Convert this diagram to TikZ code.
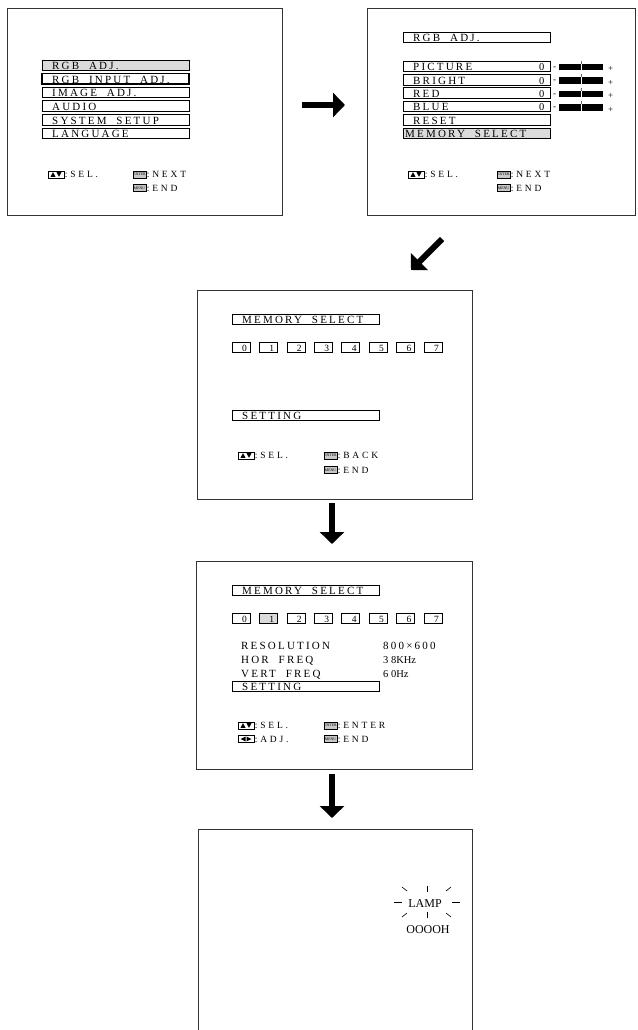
\documentclass[tikz,border=0pt]{standalone}
\usepackage{fontspec}
\setmainfont{Liberation Serif}
\newfontfamily\lsfont[LetterSpace=20]{Liberation Serif}
\newfontfamily\lsfontb[LetterSpace=30]{Liberation Serif}
\usetikzlibrary{arrows.meta}
\tikzset{
 scr/.style={draw=black!80, line width=0.9pt, inner sep=0, outer sep=0, anchor=north west},
 mbox/.style={draw=black, line width=0.7pt, inner sep=0, outer sep=0, anchor=north west, minimum height=10.5pt},
 selb/.style={line width=1.4pt},
 hlb/.style={fill=black!14},
 mtxt/.style={inner sep=0, anchor=base west, font=\fontsize{11}{11}\lsfont},
 ftxt/.style={inner sep=0, anchor=base west, font=\fontsize{9.5}{9.5}\lsfontb},
 ico/.style={draw=black, line width=0.7pt, inner sep=0, outer sep=0, anchor=west, minimum width=16pt, minimum height=7pt},
 keyico/.style={draw=black, fill=black!22, line width=0.5pt, inner sep=0, outer sep=0, anchor=west, minimum width=13pt, minimum height=7pt, font=\fontsize{3.8}{3.8}\selectfont},
 bigarr/.style={line width=6pt, -{Triangle[length=12pt,width=24pt]}},
 rayl/.style={line width=0.6pt},
 dig/.style={inner sep=0, anchor=base east, font=\fontsize{9.5}{9.5}\selectfont},
 small/.style={inner sep=0, anchor=base west, font=\fontsize{9}{9}\selectfont},
}
\newcommand\mitem[6]{%
 \node[mbox, minimum width=#4pt, #6] (#1) at (#2,#3) {};
 \node[mtxt] (#1t) at ([xshift=10pt,yshift=0.8pt]#1.south west) {#5};}
\newcommand\iconud[3]{%
 \node[ico] (#1) at (#2,#3) {};
 \fill ([xshift=2.5pt,yshift=-2.3pt]#1.west) -- ++(5pt,0) -- ++(-2.5pt,4.6pt) -- cycle;
 \fill ([xshift=8.5pt,yshift=2.3pt]#1.west) -- ++(5pt,0) -- ++(-2.5pt,-4.6pt) -- cycle;}
\newcommand\iconlr[3]{%
 \node[ico] (#1) at (#2,#3) {};
 \fill ([xshift=2.5pt]#1.west) -- ++(5pt,2.4pt) -- ++(0,-4.8pt) -- cycle;
 \fill ([xshift=-2.5pt]#1.east) -- ++(-5pt,2.4pt) -- ++(0,-4.8pt) -- cycle;}
\newcommand\digbox[5]{%
 \node[mbox, minimum width=18pt, minimum height=10.5pt, #5] (#1) at (#2,#3) {};
 \node[dig] (#1t) at ([xshift=-3pt,yshift=0.8pt]#1.south east) {#4};}
\newcommand\valzero[1]{%
 \node[inner sep=0, anchor=base east, font=\fontsize{10.5}{10.5}\selectfont] (#1z) at ([xshift=-5.5pt,yshift=0.8pt]#1.south east) {0};}
\newcommand\slider[1]{%
 \node[small] (#1m) at ([xshift=3pt,yshift=2pt]#1.south east) {-};
 \fill ([xshift=9pt,yshift=-3pt]#1.north east) rectangle ([xshift=53pt,yshift=1pt]#1.south east);
 \draw[white, line width=0.7pt] ([xshift=31pt,yshift=-3pt]#1.north east) -- ([xshift=31pt,yshift=1pt]#1.south east);
 \draw[black!60, line width=0.6pt] ([xshift=31pt]#1.north east) -- ([xshift=31pt,yshift=-3pt]#1.north east);
 \node[small] (#1p) at ([xshift=58pt,yshift=-0.5pt]#1.south east) {+};}
\newcommand\ftext[2]{%
 \node[ftxt] (#1t) at ([xshift=0.6pt,yshift=-3.4pt]#1.east) {#2};}
\begin{document}
\begin{tikzpicture}[x=1pt,y=-1pt]
\useasboundingbox (0,0) rectangle (637,1030);
% ---------- screen 1
\node[scr, minimum width=275pt, minimum height=207pt] (s1) at (7,8) {};
\mitem{ma}{42}{60}{147}{RGB\ \ ADJ.}{hlb}
\mitem{mb}{42}{73.6}{147}{RGB\ \ INPUT\ \ ADJ.}{selb}
\mitem{mc}{42}{87.2}{147}{IMAGE\ \ ADJ.}{}
\mitem{md}{42}{100.8}{147}{AUDIO}{}
\mitem{me}{42}{114.4}{147}{SYSTEM\ \ SETUP}{}
\mitem{mf}{42}{128}{147}{LANGUAGE}{}
\iconud{aud}{48}{174.5}\ftext{aud}{:SEL.}
\node[keyico] (aen) at (133,174.5) {ENTER};\ftext{aen}{:NEXT}
\node[keyico] (amn) at (133,188) {MENU};\ftext{amn}{:END}
% ---------- screen 2
\node[scr, minimum width=268pt, minimum height=207pt] (s2) at (367,8) {};
\mitem{ha}{403}{32}{147}{RGB\ \ ADJ.}{}
\mitem{ra}{403}{61}{147}{PICTURE}{}
\mitem{rb}{403}{74.4}{147}{BRIGHT}{}
\mitem{rc}{403}{87.8}{147}{RED}{}
\mitem{rd}{403}{101.2}{147}{BLUE}{}
\mitem{re}{403}{114.6}{147}{RESET}{}
\node[mbox, minimum width=147pt, hlb] (rf) at (403,128) {};
\node[mtxt] (rft) at ([xshift=2pt,yshift=0.8pt]rf.south west) {MEMORY\ \ SELECT};
\valzero{ra}\valzero{rb}\valzero{rc}\valzero{rd}
\slider{ra}\slider{rb}\slider{rc}\slider{rd}
\iconud{bud}{408}{174.5}\ftext{bud}{:SEL.}
\node[keyico] (ben) at (497,174.5) {ENTER};\ftext{ben}{:NEXT}
\node[keyico] (bmn) at (497,188) {MENU};\ftext{bmn}{:END}
% ---------- screen 3
\node[scr, minimum width=275pt, minimum height=209pt] (s3) at (197,290) {};
\mitem{hc}{232}{314}{147}{MEMORY\ \ SELECT}{}
\digbox{c0}{232}{342}{0}{}
\digbox{c1}{259.4}{342}{1}{}
\digbox{c2}{286.9}{342}{2}{}
\digbox{c3}{314.3}{342}{3}{}
\digbox{c4}{341.7}{342}{4}{}
\digbox{c5}{369.1}{342}{5}{}
\digbox{c6}{396.6}{342}{6}{}
\digbox{c7}{424}{342}{7}{}
\mitem{cs}{232}{410}{147}{SETTING}{}
\iconud{cud}{238}{455.5}\ftext{cud}{:SEL.}
\node[keyico] (cen) at (324,455.5) {ENTER};\ftext{cen}{:BACK}
\node[keyico] (cmn) at (324,470) {MENU};\ftext{cmn}{:END}
% ---------- screen 4
\node[scr, minimum width=276pt, minimum height=208pt] (s4) at (196,561) {};
\mitem{hd}{232}{585}{147}{MEMORY\ \ SELECT}{}
\digbox{d0}{232}{613}{0}{}
\digbox{d1}{259.4}{613}{1}{hlb}
\digbox{d2}{286.9}{613}{2}{}
\digbox{d3}{314.3}{613}{3}{}
\digbox{d4}{341.7}{613}{4}{}
\digbox{d5}{369.1}{613}{5}{}
\digbox{d6}{396.6}{613}{6}{}
\digbox{d7}{424}{613}{7}{}
\node[mtxt] (ires) at (241,649) {RESOLUTION};
\node[mtxt] (ihor) at (241,663) {HOR\ \ FREQ};
\node[mtxt] (iver) at (241,677) {VERT\ \ FREQ};
\node[mtxt] (vres) at (383,649) {800×600};
\node[inner sep=0, anchor=base west, font=\fontsize{10.5}{10.5}\selectfont] (vhor) at (383,663) {3 8KHz};
\node[inner sep=0, anchor=base west, font=\fontsize{10.5}{10.5}\selectfont] (vver) at (383,677) {6 0Hz};
\mitem{ds}{232}{681}{147}{SETTING}{}
\iconud{dud}{238}{725.5}\ftext{dud}{:SEL.}
\iconlr{dlr}{238}{739}\ftext{dlr}{:ADJ.}
\node[keyico] (den) at (324,725.5) {ENTER};\ftext{den}{:ENTER}
\node[keyico] (dmn) at (324,739) {MENU};\ftext{dmn}{:END}
% ---------- screen 5 (cut off at the bottom)
\draw[black!80, line width=0.9pt] (198,1032) -- (198,829) -- (472,829) -- (472,1032);
\node[inner sep=0, anchor=base, font=\fontsize{12}{12}\selectfont] (lamp) at (425,907) {LAMP};
\node[inner sep=0, anchor=base, font=\fontsize{12}{12}\selectfont] (hrs) at (428,933) {OOOOH};
\draw[rayl] (394,902) -- (402,902);
\draw[rayl] (452,902) -- (460,902);
\draw[rayl] (427,886) -- (427,892);
\draw[rayl] (427,912) -- (427,918);
\draw[rayl] (402,887) -- (407,891);
\draw[rayl] (451,887) -- (446,891);
\draw[rayl] (402,917) -- (407,913);
\draw[rayl] (451,917) -- (446,913);
% ---------- arrows
\coordinate (ar1) at (302,105); \coordinate (ar2) at (345,105);
\coordinate (ad1) at (442,239); \coordinate (ad2) at (411,270);
\coordinate (av1) at (332,503); \coordinate (av2) at (332,544);
\coordinate (aw1) at (332,774); \coordinate (aw2) at (332,818);
\draw[bigarr] (ar1) -- (ar2);
\draw[bigarr] (ad1) -- (ad2);
\draw[bigarr] (av1) -- (av2);
\draw[bigarr] (aw1) -- (aw2);
\end{tikzpicture}
\end{document}
